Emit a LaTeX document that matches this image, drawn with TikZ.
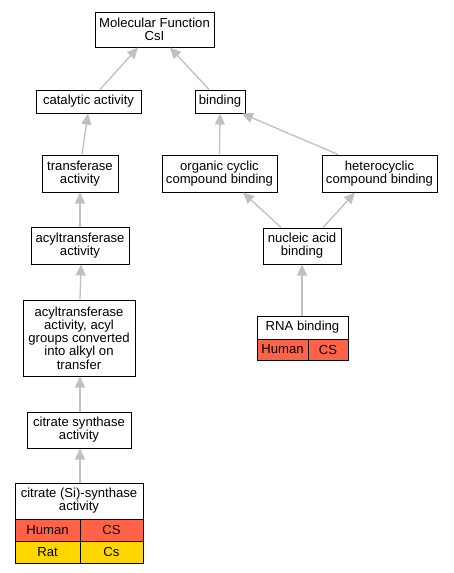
\documentclass[tikz,border=0pt]{standalone}
\usepackage{fontspec}
\setmainfont{Liberation Sans}
\usetikzlibrary{arrows.meta}
\definecolor{edgegray}{RGB}{192,192,192}
\definecolor{humanred}{RGB}{255,99,71}
\definecolor{ratgold}{RGB}{255,215,0}
\tikzset{
  term/.style={draw=black, line width=1pt, fill=white, inner sep=0pt, align=center,
    font=\fontsize{13.1}{13.2}\selectfont},
  cell/.style={term},
  isa/.style={draw=edgegray, line width=1.3pt, -{Triangle[length=11pt,width=10pt]}}
}
\begin{document}
\begin{tikzpicture}[x=1pt,y=-1pt]
\useasboundingbox (0,0) rectangle (453,573);
\node[term, minimum width=119pt, minimum height=35pt] (mf) at (154.5,29.5) {Molecular Function\\CsI};
\node[term, minimum width=105pt, minimum height=23pt] (cat) at (88.5,101.5) {catalytic activity};
\node[term, minimum width=50pt, minimum height=23pt] (bind) at (220,101.5) {binding};
\node[term, minimum width=76pt, minimum height=37pt] (trans) at (80,173.5) {transferase\\activity};
\node[term, minimum width=115pt, minimum height=37pt] (org) at (219.5,173.5) {organic cyclic\\compound binding};
\node[term, minimum width=115pt, minimum height=37pt] (het) at (379.5,173.5) {heterocyclic\\compound binding};
\node[term, minimum width=98pt, minimum height=37pt] (acylt) at (80,245.5) {acyltransferase\\activity};
\node[term, minimum width=112pt, minimum height=76pt] (acyl) at (79,338) {acyltransferase\\activity, acyl\\groups converted\\into alkyl on\\transfer};
\node[term, minimum width=104pt, minimum height=36pt] (cs) at (79,430) {citrate synthase\\activity};
\node[term, minimum width=128pt, minimum height=36pt] (csi) at (79,501) {citrate (Si)-synthase\\activity};
\node[cell, fill=humanred, minimum width=65pt, minimum height=22pt] (csih1) at (47.5,530) {Human};
\node[cell, fill=humanred, minimum width=63pt, minimum height=22pt] (csih2) at (111.5,530) {CS};
\node[cell, fill=ratgold, minimum width=65pt, minimum height=22pt] (csir1) at (47.5,552) {Rat};
\node[cell, fill=ratgold, minimum width=63pt, minimum height=22pt] (csir2) at (111.5,552) {Cs};
\node[term, minimum width=78pt, minimum height=36pt] (nuc) at (302,246) {nucleic acid\\binding};
\node[term, minimum width=91pt, minimum height=23pt] (rna) at (302.5,327.5) {RNA binding};
\node[cell, fill=humanred, minimum width=51pt, minimum height=21pt] (rnah1) at (282.5,349.5) {Human};
\node[cell, fill=humanred, minimum width=40pt, minimum height=21pt] (rnah2) at (328,349.5) {CS};

\draw[isa] ([xshift=11.5pt]cat.north) -- ([xshift=-16.5pt]mf.south);
\draw[isa] ([xshift=-11pt]bind.north) -- ([xshift=15.5pt]mf.south);
\draw[isa] ([xshift=2pt]trans.north) -- ([xshift=-0.5pt]cat.south);
\draw[isa] (org.north) -- (bind.south);
\draw[isa] ([xshift=-41.5pt]het.north) -- ([xshift=22pt]bind.south);
\draw[isa] (acylt.north) -- (trans.south);
\draw[isa] ([xshift=1pt]acyl.north) -- ([xshift=1pt]acylt.south);
\draw[isa] ([xshift=1pt]cs.north) -- ([xshift=1pt]acyl.south);
\draw[isa] ([xshift=1pt]csi.north) -- ([xshift=1pt]cs.south);
\draw[isa] ([xshift=-21pt]nuc.north) -- ([xshift=23.5pt]org.south);
\draw[isa] ([xshift=21pt]nuc.north) -- ([xshift=-24.5pt]het.south);
\draw[isa] ([xshift=-0.5pt]rna.north) -- (nuc.south);
\end{tikzpicture}
\end{document}
